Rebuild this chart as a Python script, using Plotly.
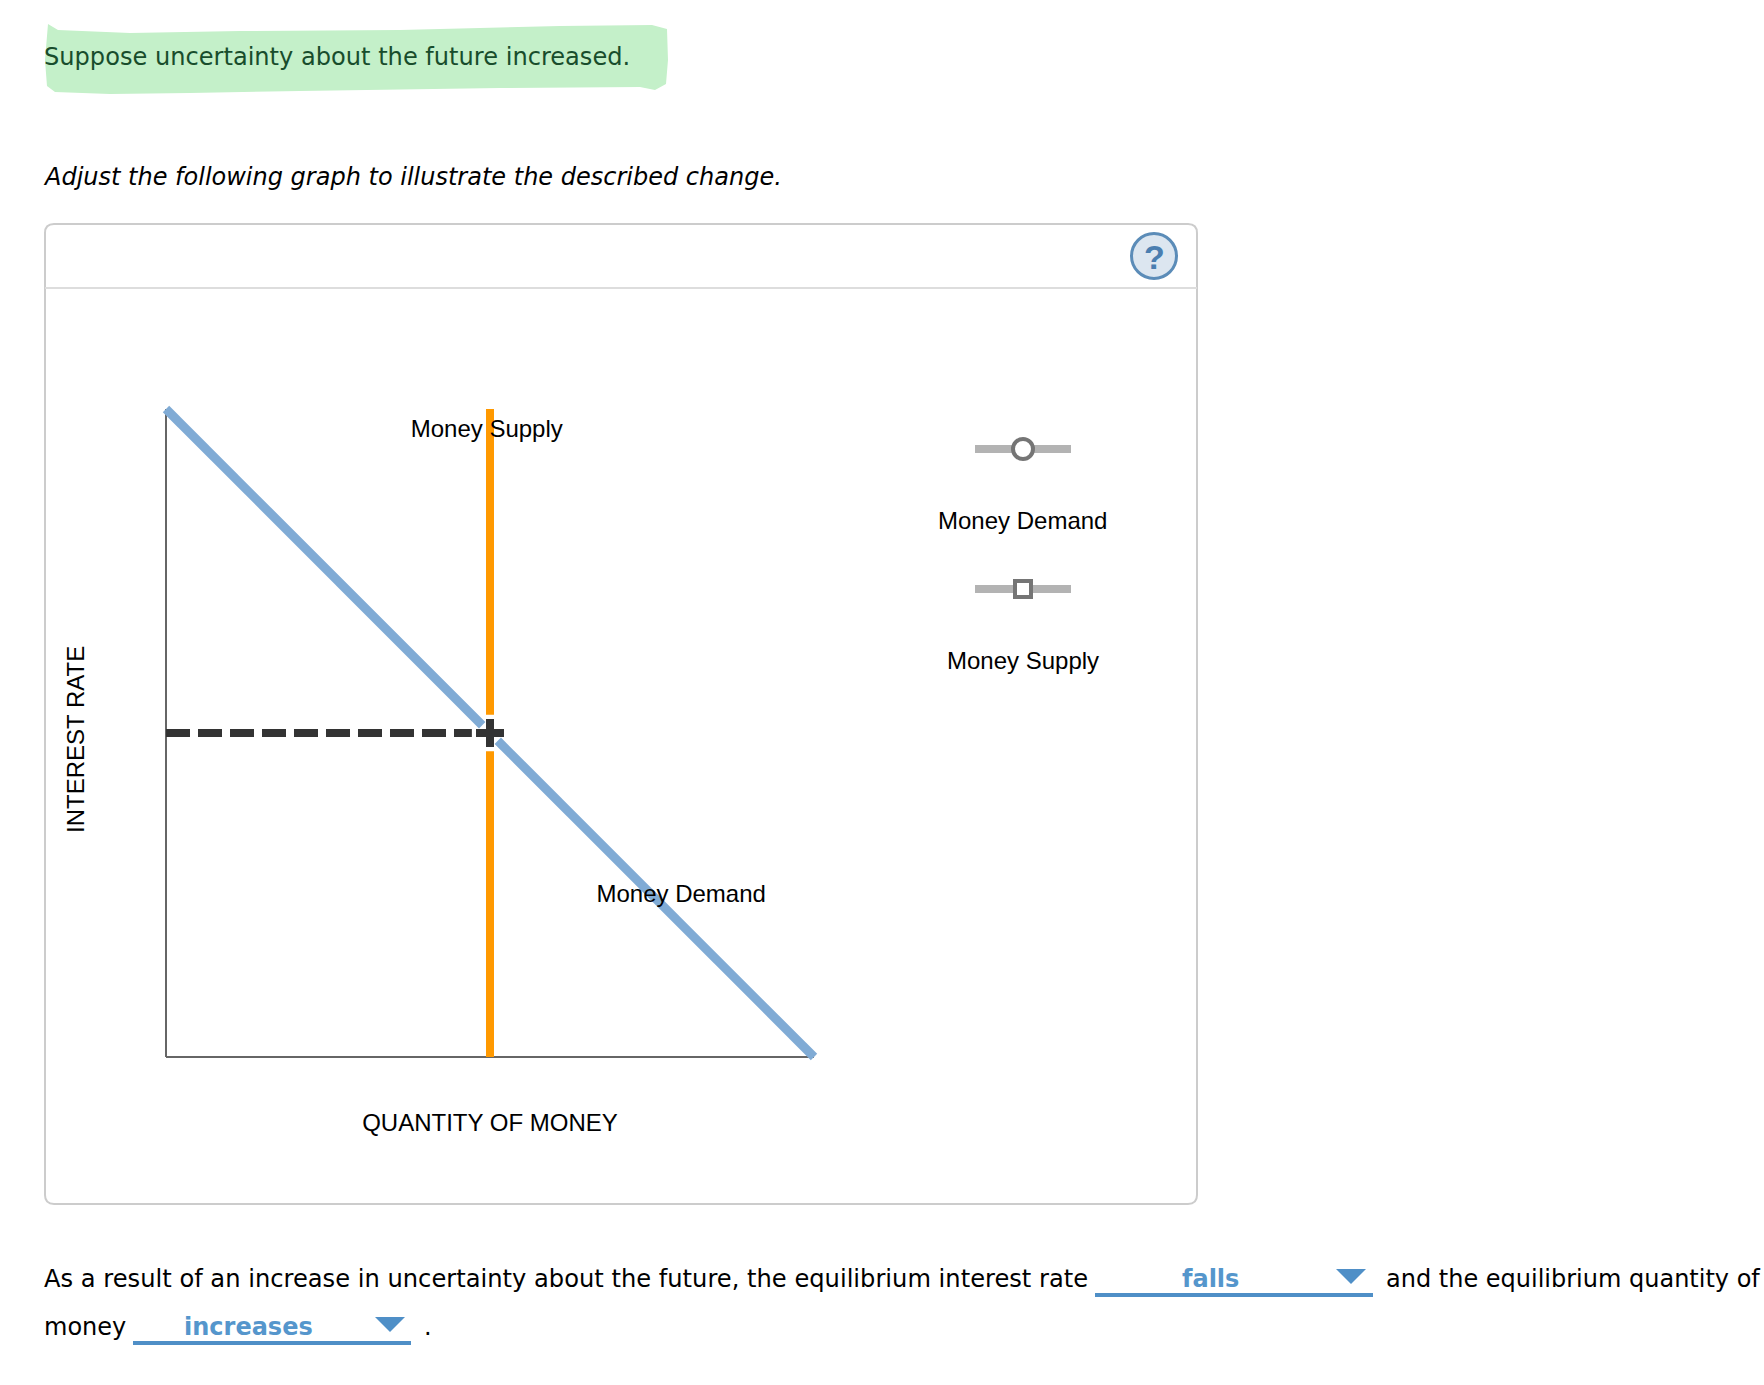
import plotly.graph_objects as go

W, H = 1764, 1385

# ---- data (percent of each axis) ----
demand_q = [0, 48.8, None, 51.2, 100]
demand_r = [100, 51.2, None, 48.8, 0]
supply_q = [50, 50, None, 50, 50]
supply_r = [100, 52.8, None, 47.2, 0]
dashed_q = [0, 47.2]
dashed_r = [50, 50]
equilibrium_q = [50]
equilibrium_r = [50]
label_q = [49.5, 79.5]
label_r = [96.55, 24.85]
label_text = ["Money Supply", "Money Demand"]
x_title = "QUANTITY OF MONEY"
y_title = "INTEREST RATE"
intro = "Suppose uncertainty about the future increased."
instruction = "Adjust the following graph to illustrate the described change."
answer_a = "As a result of an increase in uncertainty about the future, the equilibrium interest rate"
answer_b = "and the equilibrium quantity of"
answer_c = "money"
choice_a = "falls"
choice_b = "increases"

SANS = "Liberation Sans"
BODY = "DejaVu Sans"
BLUE = "#80abd5"
ORANGE = "#ff9900"
DARK = "#333333"
GREY = "#b3b3b3"
KNOB = "#757575"
LINK = "#5596cc"


def px(x):
    return x / W


def py(y):
    return 1 - y / H


def P(x, y):
    return f"{px(x):.5f},{py(y):.5f}"


def poly(points):
    return "M" + " L".join(P(*p) for p in points) + " Z"


fig = go.Figure()
fig.add_trace(go.Scatter(x=supply_q, y=supply_r, mode="lines", cliponaxis=False,
                         line=dict(color=ORANGE, width=8), showlegend=False, name="Money Supply"))
fig.add_trace(go.Scatter(x=demand_q, y=demand_r, mode="lines", cliponaxis=False,
                         line=dict(color=BLUE, width=9), showlegend=False, name="Money Demand"))
fig.add_trace(go.Scatter(x=dashed_q, y=dashed_r, mode="lines", cliponaxis=False,
                         line=dict(color=DARK, width=8, dash="24px,8px"), showlegend=False))
fig.add_trace(go.Scatter(x=equilibrium_q, y=equilibrium_r, mode="markers", cliponaxis=False,
                         marker=dict(symbol="cross-thin", size=20, line=dict(color=DARK, width=8)),
                         showlegend=False))
fig.add_trace(go.Scatter(x=label_q, y=label_r, mode="text", text=label_text, cliponaxis=False,
                         textfont=dict(family=SANS, size=24, color="#000000"), showlegend=False))

shapes = []


def shape(**kw):
    kw.setdefault("xref", "paper")
    kw.setdefault("yref", "paper")
    shapes.append(kw)


# axis lines at the origin (the plot area is a little wider so line ends are not clipped)
shape(type="line", xref="x", yref="y", x0=0, x1=100, y0=0, y1=0, line=dict(color="#666666", width=2), layer="below")
shape(type="line", xref="x", yref="y", x0=0, x1=0, y0=0, y1=100, line=dict(color="#666666", width=2), layer="below")

# highlighter stroke behind the intro
brush = [(48, 24), (58, 30), (130, 33), (240, 31), (400, 30), (560, 26), (652, 25), (667, 29), (668, 60),
         (666, 84), (655, 90), (640, 87), (500, 88), (300, 91), (190, 93), (110, 94), (55, 92), (47, 86), (45, 60)]
shape(type="path", path=poly(brush), fillcolor="#c4f0c9", line=dict(width=0), layer="below")

# panel with rounded corners
L, T, R, B, r = 45, 224, 1197, 1204, 9
panel = (f"M{P(L + r, T)} L{P(R - r, T)} Q{P(R, T)} {P(R, T + r)} L{P(R, B - r)} Q{P(R, B)} {P(R - r, B)} "
         f"L{P(L + r, B)} Q{P(L, B)} {P(L, B - r)} L{P(L, T + r)} Q{P(L, T)} {P(L + r, T)} Z")
shape(type="path", path=panel, line=dict(color="#cccccc", width=2), layer="below")
shape(type="line", x0=px(L), x1=px(R), y0=py(288), y1=py(288), line=dict(color="#dddddd", width=2), layer="below")

# help icon
shape(type="circle", x0=px(1131.5), x1=px(1176.5), y0=py(233.5), y1=py(278.5),
      fillcolor="#dce6f0", line=dict(color="#5b8cb8", width=3))

# palette widgets
for yc in (449, 589):
    shape(type="line", x0=px(975), x1=px(1071), y0=py(yc), y1=py(yc), line=dict(color=GREY, width=8))
shape(type="circle", x0=px(1013), x1=px(1033), y0=py(439), y1=py(459),
      fillcolor="#ffffff", line=dict(color=KNOB, width=4))
shape(type="rect", x0=px(1015), x1=px(1031), y0=py(581), y1=py(597),
      fillcolor="#ffffff", line=dict(color=KNOB, width=4))

# answer dropdowns
for x0, x1, y in ((1095, 1373, 1295), (133, 411, 1343)):
    shape(type="line", x0=px(x0), x1=px(x1), y0=py(y), y1=py(y), line=dict(color="#4f8fc7", width=4))
for x0, x1, y0, y1 in ((1336, 1366, 1269, 1284), (375, 405, 1317, 1332)):
    shape(type="path", path=poly([(x0, y0), (x1, y0), ((x0 + x1) / 2, y1)]),
          fillcolor="#4f8fc7", line=dict(width=0))


def note(x, y, text, family=BODY, size=24, color="#000000", anchor="left", **kw):
    return dict(xref="paper", yref="paper", x=px(x), y=py(y), text=text, showarrow=False,
                xanchor=anchor, yanchor="middle", font=dict(family=family, size=size, color=color),
                borderpad=0, borderwidth=0, **kw)


annotations = [
    note(44, 57, intro, size=24.1, color="#184d2c"),
    note(43, 177, f"<i>{instruction}</i>"),
    note(1154, 257, "<b>?</b>", family=SANS, size=34, color="#4a7eb0", anchor="center"),
    note(1022, 520, "Money Demand", family=SANS, anchor="center"),
    note(1023, 660, "Money Supply", family=SANS, anchor="center"),
    note(44, 1279, answer_a, size=24.18),
    note(1386, 1279, answer_b),
    note(44, 1327, answer_c),
    note(428, 1327, ".", anchor="center"),
    note(1210, 1279, f"<b>{choice_a}</b>", color=LINK, anchor="center"),
    note(248, 1327, f"<b>{choice_b}</b>", color=LINK, anchor="center"),
    note(75, 740, y_title, family=SANS, anchor="center", textangle=-90),
]

unit = 6.48
pad = 2  # axis units of room around 0..100

fig.update_layout(
    width=W, height=H, autosize=False,
    margin=dict(l=0, r=0, t=0, b=0),
    paper_bgcolor="#ffffff", plot_bgcolor="rgba(0,0,0,0)",
    showlegend=False, shapes=shapes, annotations=annotations,
    xaxis=dict(domain=[px(166 - pad * unit), px(814 + pad * unit)], range=[-pad, 100 + pad],
               showgrid=False, zeroline=False, showline=False, ticks="", showticklabels=False,
               title=dict(text=x_title, standoff=44, font=dict(family=SANS, size=24, color="#000000"))),
    yaxis=dict(domain=[py(1057 + pad * unit), py(409 - pad * unit)], range=[-pad, 100 + pad],
               showgrid=False, zeroline=False, showline=False, ticks="", showticklabels=False),
)

fig.write_html("out.html", post_script="document.body.style.margin='0';document.body.style.overflow='hidden';",
               config=dict(displayModeBar=False))
